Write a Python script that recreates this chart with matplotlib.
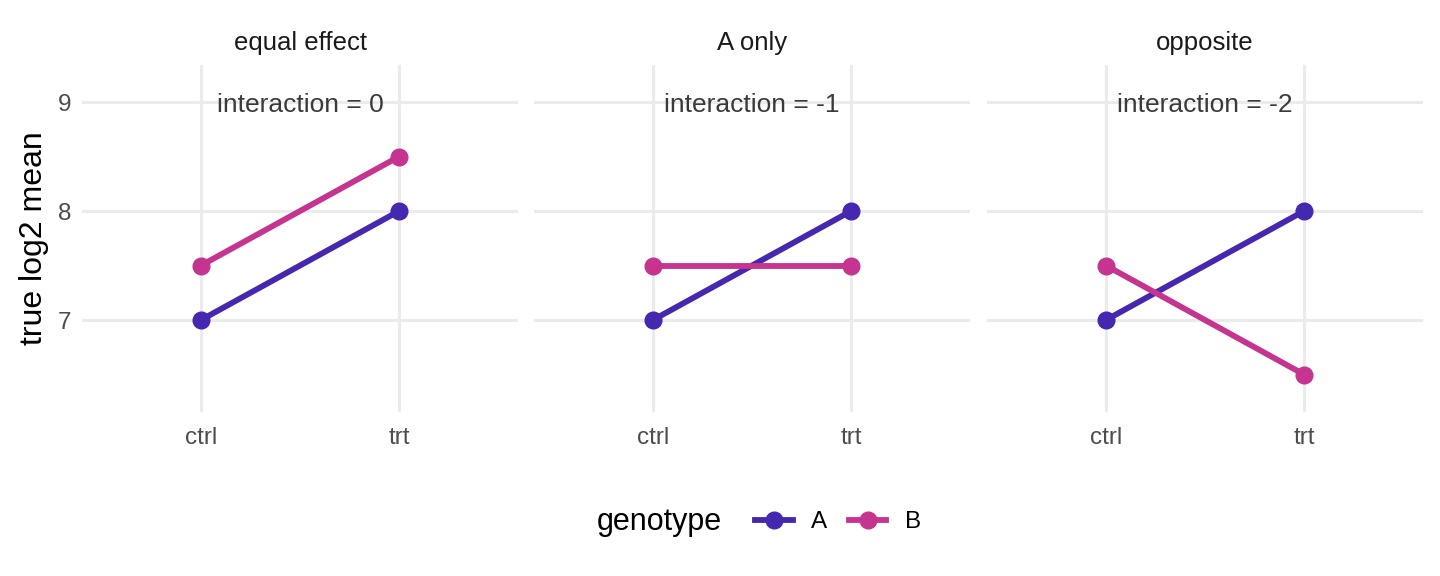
import matplotlib.pyplot as plt
from matplotlib.lines import Line2D

# data
conditions = ['ctrl', 'trt']
panels = ['equal effect', 'A only', 'opposite']
genoA = [[7.0, 8.0], [7.0, 8.0], [7.0, 8.0]]
genoB = [[7.5, 8.5], [7.5, 7.5], [7.5, 6.5]]
labels = ['interaction = 0', 'interaction = -1', 'interaction = -2']
label_y = 9

colA = '#4527B0'
colB = '#C5348F'
grid = '#EBEBEB'

plt.rcParams['font.family'] = ['Liberation Sans', 'DejaVu Sans']

fig = plt.figure(figsize=(14.4, 5.76), dpi=100)
lefts = [82, 534, 987]
xs = list(range(len(conditions)))

for i in range(3):
    ax = fig.add_axes([lefts[i] / 1440, 164 / 576, 436 / 1440, 347 / 576])
    ax.plot(xs, genoA[i], color=colA, lw=4.2, marker='o', ms=12, solid_capstyle='butt', zorder=3)
    ax.plot(xs, genoB[i], color=colB, lw=4.2, marker='o', ms=12, solid_capstyle='butt', zorder=3)
    ax.text(0.5, label_y, labels[i], ha='center', va='center_baseline', fontsize=19, color='#3a3a3a')
    ax.set_xlim(-0.6, 1.6)
    ax.set_ylim(6.156, 9.34)
    ax.set_xticks(xs)
    ax.set_xticklabels(conditions)
    ax.set_yticks([7, 8, 9])
    if i > 0:
        ax.set_yticklabels([])
    ax.grid(True, color=grid, lw=2.2)
    ax.set_axisbelow(True)
    for s in ax.spines.values():
        s.set_visible(False)
    ax.tick_params(length=0, labelsize=17.5, labelcolor='#4D4D4D')
    ax.tick_params(axis='x', pad=11)
    ax.tick_params(axis='y', pad=8)
    ax.set_title(panels[i], fontsize=18.5, color='#1A1A1A', pad=11)
    if i == 0:
        ax.set_ylabel('true log2 mean', fontsize=23, color='black', labelpad=6)

handles = [Line2D([], [], color=colA, lw=4.2, marker='o', ms=12),
           Line2D([], [], color=colB, lw=4.2, marker='o', ms=12)]
fig.text(722 / 1440, 1 - 522 / 576, 'genotype', ha='right', va='center', fontsize=22)
fig.legend(handles, ['A', 'B'], loc='center left', bbox_to_anchor=(733 / 1440, 1 - 522 / 576),
           ncol=2, frameon=False, fontsize=17.5, handlelength=1.55, handletextpad=0.75,
           columnspacing=0.9)

plt.savefig('out.png', dpi=100)
plt.close()
